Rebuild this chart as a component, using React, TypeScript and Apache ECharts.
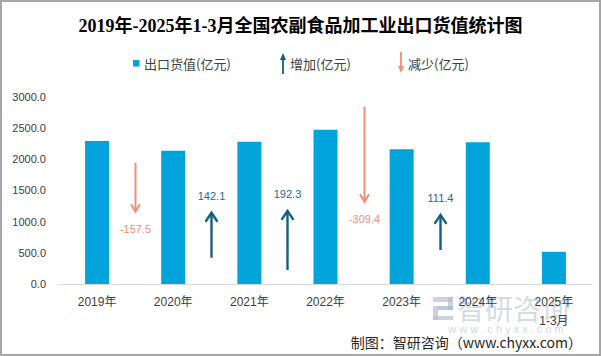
import React, { useEffect, useRef } from "react";
import * as echarts from "echarts";

const titleText = "2019年-2025年1-3月全国农副食品加工业出口货值统计图";
const categories = ["2019年", "2020年", "2021年", "2022年", "2023年", "2024年", "2025年\n1-3月"];
const exportValues = [2290.0, 2132.5, 2274.6, 2466.9, 2157.5, 2268.9, 515.0];
// change between consecutive categories (arrow drawn between category i and i+1)
const changes = [-157.5, 142.1, 192.3, -309.4, 111.4];
const arrowTails = [1940, 420, 225, 2840, 545];
const arrowHeads = [1155, 1140, 1170, 1315, 1105];
const yTicks = { min: 0, max: 3000, interval: 500 };

const BAR_COLOR = "#00a3da";
const INC_COLOR = "#135f7d";
const INC_LABEL = "#1f6a92";
const DEC_COLOR = "#f08e78";
const TEXT_COLOR = "#404040";
const SANS = "'Liberation Sans', 'Noto Sans CJK SC', sans-serif";
const CJK = "'Noto Sans CJK SC', 'Liberation Sans', sans-serif";

export default function App() {
  const ref = useRef<HTMLDivElement>(null);
  useEffect(() => {
    document.body.style.margin = "0";
    const chart = echarts.init(ref.current!, null, { renderer: "svg" });
    const arrowData = changes.map((c, i) => [i, arrowTails[i], arrowHeads[i], c]);
    chart.setOption({
      animation: false,
      backgroundColor: "#ffffff",
      title: {
        text: titleText,
        left: "center",
        top: 12,
        textStyle: {
          fontSize: 18,
          fontWeight: "bold",
          color: "#000",
          fontFamily: "'Liberation Serif', 'Noto Sans CJK SC', serif",
        },
      },
      grid: { left: 59, right: 9, top: 96.5, bottom: 72 },
      xAxis: {
        type: "category",
        data: categories,
        axisLine: { show: true, lineStyle: { color: "#d9d9d9", width: 1 } },
        axisTick: { show: false },
        axisLabel: {
          color: TEXT_COLOR,
          fontSize: 12,
          fontFamily: SANS,
          margin: 8,
          lineHeight: 19,
          interval: 0,
        },
      },
      yAxis: {
        type: "value",
        min: yTicks.min,
        max: yTicks.max,
        interval: yTicks.interval,
        splitLine: { show: false },
        axisLine: { show: false },
        axisTick: { show: false },
        axisLabel: {
          color: TEXT_COLOR,
          fontSize: 11,
          fontFamily: SANS,
          margin: 13,
          formatter: (v: number) => v.toFixed(1),
        },
      },
      series: [
        {
          name: "出口货值(亿元)",
          type: "bar",
          data: exportValues,
          barWidth: 24,
          itemStyle: { color: BAR_COLOR },
        },
        {
          name: "变化",
          type: "custom",
          data: arrowData,
          encode: { x: 0, y: [1, 2] },
          z: 5,
          renderItem: (params: any, api: any) => {
            const idx = api.value(0);
            const tail = api.value(1);
            const head = api.value(2);
            const chg = api.value(3);
            const band = api.size([1, 0])[0];
            const x = Math.round(api.coord([idx, 0])[0] + band / 2) + 0.5;
            const y0 = api.coord([idx, tail])[1];
            const y1 = api.coord([idx, head])[1];
            const up = chg > 0;
            const color = up ? INC_COLOR : DEC_COLOR;
            const dir = up ? 1 : -1;
            const hw = up ? 6 : 4.5;
            const hh = up ? 9 : 7.5;
            const lw = up ? 2.4 : 2;
            return {
              type: "group",
              children: [
                {
                  type: "line",
                  shape: { x1: x, y1: y0, x2: x, y2: y1 + dir * 1 },
                  style: { stroke: color, lineWidth: lw },
                },
                {
                  type: "polyline",
                  shape: {
                    points: [
                      [x - hw, y1 + dir * hh],
                      [x, y1],
                      [x + hw, y1 + dir * hh],
                    ],
                  },
                  style: { stroke: color, lineWidth: lw, fill: null },
                },
                {
                  type: "text",
                  x: x,
                  y: y1 - dir * 17,
                  style: {
                    text: chg.toFixed(1),
                    fill: up ? INC_LABEL : DEC_COLOR,
                    fontSize: 11,
                    fontFamily: SANS,
                    align: "center",
                    verticalAlign: "middle",
                  },
                },
              ],
            };
          },
        },
      ],
      graphic: [
        // border
        {
          type: "rect",
          shape: { x: 1, y: 1, width: 599, height: 354 },
          style: { fill: null, stroke: "#a6a6a6", lineWidth: 2 },
          silent: true,
        },
        // legend: bar
        { type: "rect", shape: { x: 133, y: 60, width: 6.5, height: 6.5 }, style: { fill: BAR_COLOR } },
        {
          type: "text",
          x: 144,
          y: 63.5,
          style: { text: "出口货值(亿元)", fill: TEXT_COLOR, fontSize: 13, fontFamily: CJK, verticalAlign: "middle" },
        },
        // legend: increase
        { type: "line", shape: { x1: 283, y1: 74, x2: 283, y2: 58 }, style: { stroke: INC_COLOR, lineWidth: 1.8 } },
        { type: "polygon", shape: { points: [[280, 60], [283, 53], [286, 60]] }, style: { fill: INC_COLOR } },
        {
          type: "text",
          x: 290,
          y: 63.5,
          style: { text: "增加(亿元)", fill: TEXT_COLOR, fontSize: 13, fontFamily: CJK, verticalAlign: "middle" },
        },
        // legend: decrease
        { type: "line", shape: { x1: 401, y1: 52, x2: 401, y2: 67 }, style: { stroke: DEC_COLOR, lineWidth: 1.8 } },
        { type: "polygon", shape: { points: [[398, 66], [401, 73], [404, 66]] }, style: { fill: DEC_COLOR } },
        {
          type: "text",
          x: 408,
          y: 63.5,
          style: { text: "减少(亿元)", fill: TEXT_COLOR, fontSize: 13, fontFamily: CJK, verticalAlign: "middle" },
        },
        // watermark logo
        {
          type: "group",
          silent: true,
          children: [
            { type: "rect", shape: { x: 433, y: 297, width: 20, height: 5 }, style: { fill: "#b9c3d3", opacity: 0.75 } },
            { type: "rect", shape: { x: 448, y: 297, width: 5, height: 13 }, style: { fill: "#b9c3d3", opacity: 0.75 } },
            { type: "rect", shape: { x: 438, y: 306, width: 15, height: 4 }, style: { fill: "#9fb7d6", opacity: 0.75 } },
            { type: "rect", shape: { x: 433, y: 306, width: 5, height: 14 }, style: { fill: "#b9c3d3", opacity: 0.75 } },
            { type: "rect", shape: { x: 433, y: 316, width: 20, height: 4 }, style: { fill: "#b9c3d3", opacity: 0.75 } },
          ],
        },
        {
          type: "text",
          x: 457,
          y: 308,
          silent: true,
          style: {
            text: "智研咨询",
            fill: "#c4cbd6",
            opacity: 0.7,
            fontSize: 28,
            fontFamily: CJK,
            verticalAlign: "middle",
          },
        },
        {
          type: "text",
          x: 506,
          y: 329,
          silent: true,
          style: {
            text: "w w w . c h y x x . c o m",
            fill: "#c4cbd6",
            opacity: 0.8,
            fontSize: 11,
            fontFamily: SANS,
            align: "center",
            verticalAlign: "middle",
          },
        },
        // source
        {
          type: "text",
          right: 19,
          top: 335,
          style: {
            text: "制图：智研咨询（www.chyxx.com）",
            fill: "#262626",
            fontSize: 14,
            fontFamily: CJK,
          },
        },
      ],
    });
    return () => chart.dispose();
  }, []);
  return (
    <div
      ref={ref}
      style={{ position: "absolute", left: 0, top: 0, width: 601, height: 356 }}
    />
  );
}
